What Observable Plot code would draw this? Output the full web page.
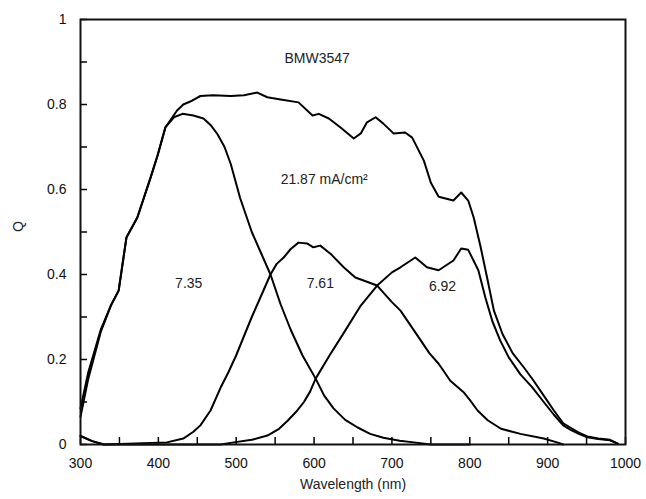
<!DOCTYPE html>
<html>
<head>
<meta charset="utf-8">
<script src="https://cdn.jsdelivr.net/npm/d3@7"></script>
<script src="https://cdn.jsdelivr.net/npm/@observablehq/plot@0.6"></script>
<style>
  html, body { margin: 0; padding: 0; background: #fff; }
  #chart { width: 646px; height: 499px; }
</style>
</head>
<body>
<div id="chart"></div>
<script>
// Total EQE
const totalNm = [300,310,326,339,349,359,373,390,399,409,424,432,441,454,470,493,510,527,540,557,580,598,606,619,634,651,660,668,679,689,702,717,726,741,750,760,779,789,798,805,814,823,831,842,855,870,882,895,908,920,929,940,951,965,980,990];
const totalQ  = [0.085,0.17,0.27,0.327,0.362,0.487,0.534,0.628,0.68,0.746,0.786,0.80,0.807,0.82,0.822,0.82,0.822,0.828,0.817,0.812,0.805,0.774,0.778,0.767,0.746,0.72,0.732,0.758,0.77,0.755,0.732,0.734,0.722,0.668,0.616,0.583,0.574,0.593,0.574,0.534,0.464,0.386,0.315,0.26,0.215,0.18,0.15,0.115,0.08,0.05,0.04,0.028,0.019,0.014,0.011,0.002];

// Top sub-cell (7.35)
const topNm = [300,310,326,339,349,359,373,390,399,409,420,431,445,458,467,476,485,493,505,520,532,544,557,570,585,602,613,625,640,656,672,689,710,728,750,800];
const topQ  = [0.065,0.155,0.265,0.327,0.362,0.487,0.534,0.628,0.68,0.746,0.77,0.778,0.774,0.767,0.752,0.73,0.70,0.66,0.58,0.50,0.45,0.40,0.33,0.27,0.21,0.155,0.115,0.085,0.058,0.04,0.025,0.016,0.009,0.005,0,0];

// Middle sub-cell (7.61)
const midNm = [300,315,330,411,432,445,454,467,480,490,500,520,532,544,552,561,570,580,591,599,608,621,638,653,681,700,711,737,748,760,775,792,800,810,823,840,865,895,912,920];
const midQ  = [0.02,0.008,0,0.005,0.014,0.03,0.045,0.08,0.134,0.17,0.21,0.30,0.35,0.40,0.425,0.44,0.46,0.475,0.473,0.464,0.468,0.449,0.417,0.393,0.374,0.335,0.315,0.245,0.215,0.19,0.15,0.123,0.105,0.08,0.057,0.037,0.025,0.014,0.005,0];

// Bottom sub-cell (6.92)
const botNm = [300,315,330,480,497,520,540,555,566,577,587,595,602,620,640,660,681,700,711,730,745,760,779,789,798,811,820,829,839,850,865,880,895,908,920,929,940,951,965,980,990];
const botQ  = [0.02,0.008,0,0,0.005,0.011,0.021,0.037,0.056,0.077,0.10,0.125,0.155,0.21,0.268,0.327,0.374,0.405,0.417,0.44,0.417,0.41,0.433,0.461,0.458,0.41,0.346,0.29,0.245,0.205,0.165,0.135,0.10,0.07,0.045,0.035,0.025,0.017,0.013,0.01,0.002];

const xMajorTicks = [300,400,500,600,700,800,900,1000];
const xMinorTicks = [350,450,550,650,750,850,950];
const yMajorTicks = [0,0.2,0.4,0.6,0.8,1];
const yMinorTicks = [0.1,0.3,0.5,0.7,0.9];

const annoText = ["BMW3547","21.87 mA/cm\u00B2","7.35","7.61","6.92"];
const annoNm   = [604,613,439,608,765];
const annoQ    = [0.908,0.624,0.379,0.379,0.372];

const toRows = (xs, ys) => xs.map((x, i) => ({x, y: ys[i]}));
const series = [toRows(totalNm,totalQ), toRows(topNm,topQ), toRows(midNm,midQ), toRows(botNm,botQ)];
const annos = annoText.map((t, i) => ({t, x: annoNm[i], y: annoQ[i]}));
const allX = xMajorTicks.concat(xMinorTicks);
const allY = yMajorTicks.concat(yMinorTicks);

const W = 646, H = 499, ML = 80, MR = 21, MT = 19, MB = 55;
const plotW = W - ML - MR, plotH = H - MT - MB, TICK = 7;

const chart = Plot.plot({
  width: W,
  height: H,
  marginLeft: ML,
  marginRight: MR,
  marginTop: MT,
  marginBottom: MB,
  style: {fontFamily: "'Liberation Sans', Arial, sans-serif", fontSize: "14px", color: "#111", background: "#fff"},
  x: {domain: [300, 1000]},
  y: {domain: [0, 1]},
  marks: [
    Plot.axisX({ticks: xMajorTicks, tickSize: 0, tickPadding: 14, tickFormat: d => String(d), label: null, fontSize: 14}),
    Plot.axisY({ticks: yMajorTicks, tickSize: 0, tickPadding: 14, tickFormat: d => String(d), label: null, fontSize: 14}),
    Plot.tickX(allX, {x: d => d, insetTop: plotH - TICK, stroke: "#000", strokeWidth: 1.5}),
    Plot.tickY(allY, {y: d => d, insetRight: plotW - TICK, stroke: "#000", strokeWidth: 1.5}),
    ...series.map(s => Plot.line(s, {x: "x", y: "y", stroke: "#000", strokeWidth: 2})),
    Plot.frame({stroke: "#111", strokeWidth: 2}),
    Plot.text(annos, {x: "x", y: "y", text: "t", fontSize: 14, fill: "#222"}),
    Plot.text(["Wavelength (nm)"], {frameAnchor: "bottom", dy: 44, fontSize: 14, fill: "#222"}),
    Plot.text(["Q"], {frameAnchor: "left", dx: -62, rotate: -90, fontSize: 14, fill: "#222"})
  ]
});
document.getElementById("chart").appendChild(chart);
</script>
</body>
</html>
